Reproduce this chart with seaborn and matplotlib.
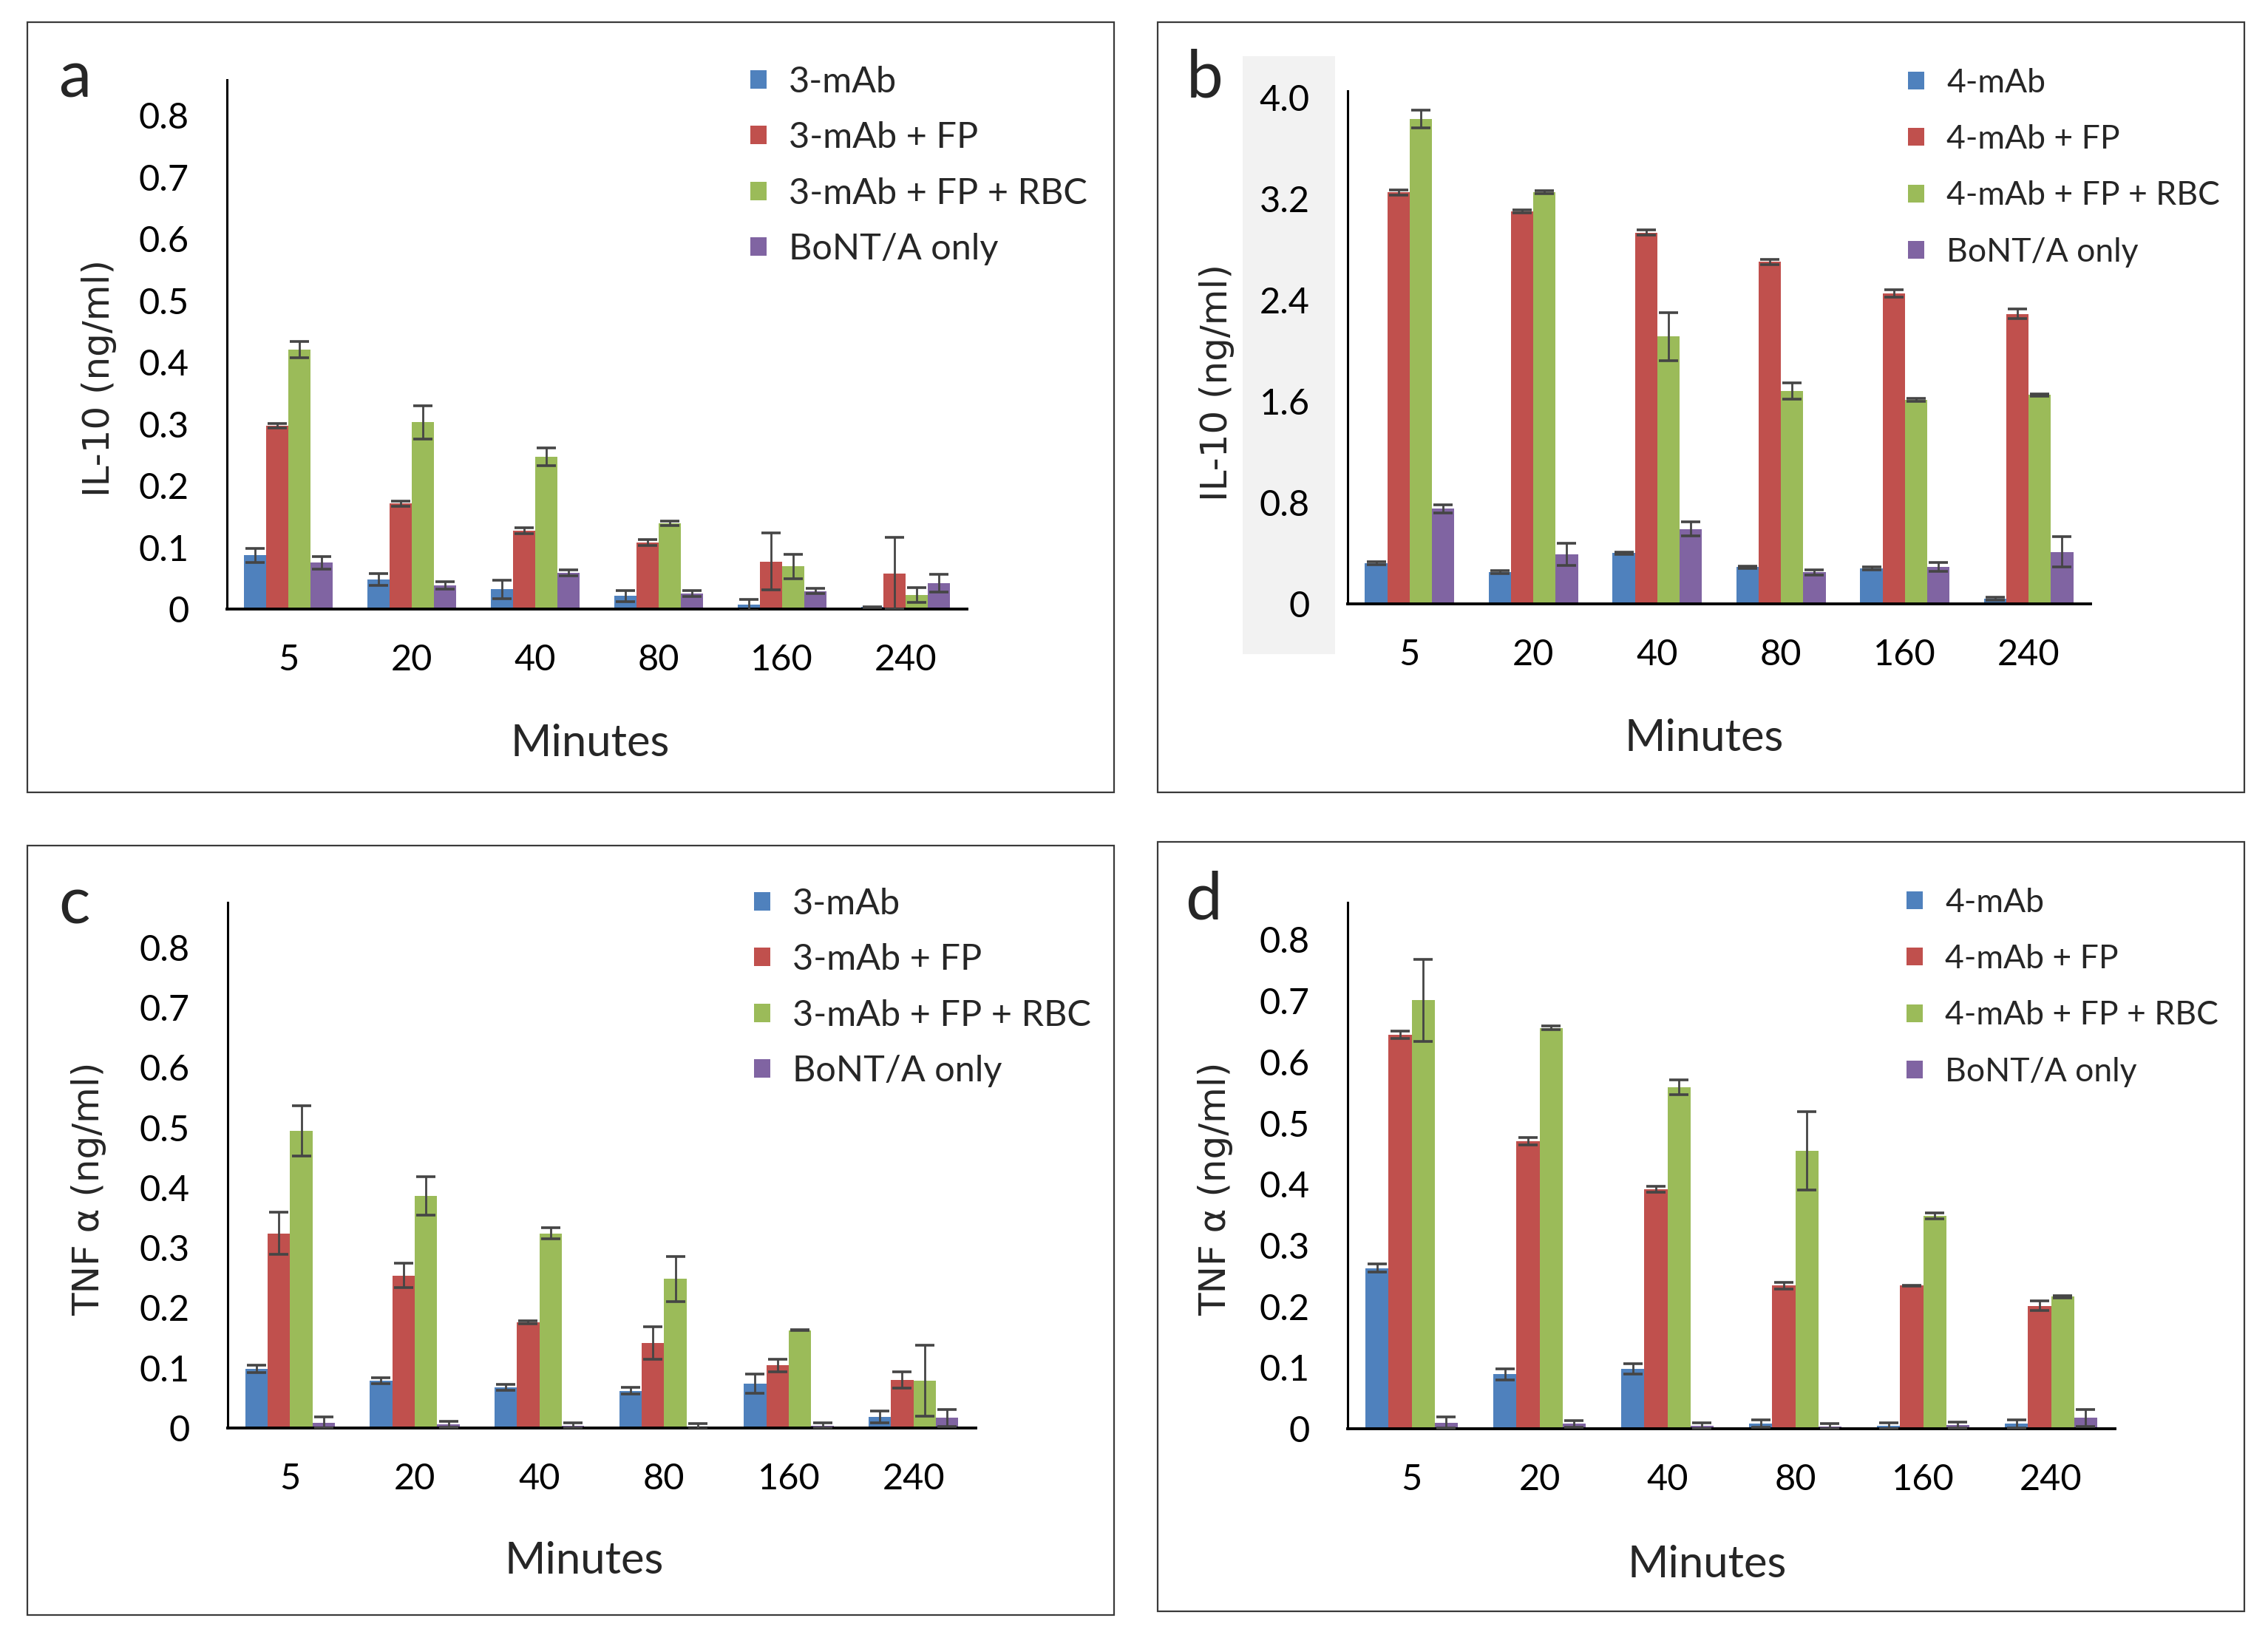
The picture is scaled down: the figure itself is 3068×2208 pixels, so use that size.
import numpy as np
import pandas as pd
import matplotlib
matplotlib.use("Agg")
import matplotlib.pyplot as plt
from matplotlib.patches import Rectangle
import seaborn as sns

# ---------------- data ----------------
minutes = ["5", "20", "40", "80", "160", "240"]

series_3 = ["3-mAb", "3-mAb + FP", "3-mAb + FP + RBC", "BoNT/A only"]
series_4 = ["4-mAb", "4-mAb + FP", "4-mAb + FP + RBC", "BoNT/A only"]

# panel a : IL-10, 3-mAb
a_mab = [0.087, 0.048, 0.032, 0.021, 0.007, 0.003]
a_fp = [0.297, 0.171, 0.127, 0.108, 0.077, 0.058]
a_rbc = [0.421, 0.303, 0.247, 0.139, 0.069, 0.023]
a_bont = [0.075, 0.038, 0.059, 0.025, 0.029, 0.042]
a_mab_err = [0.011, 0.010, 0.015, 0.009, 0.009, 0.001]
a_fp_err = [0.004, 0.004, 0.005, 0.005, 0.046, 0.058]
a_rbc_err = [0.013, 0.027, 0.014, 0.004, 0.020, 0.012]
a_bont_err = [0.010, 0.006, 0.005, 0.005, 0.004, 0.014]

# panel b : IL-10, 4-mAb
b_mab = [0.32, 0.25, 0.40, 0.29, 0.28, 0.04]
b_fp = [3.25, 3.10, 2.93, 2.70, 2.45, 2.29]
b_rbc = [3.83, 3.25, 2.11, 1.68, 1.61, 1.65]
b_bont = [0.75, 0.39, 0.59, 0.25, 0.29, 0.41]
b_mab_err = [0.01, 0.01, 0.01, 0.01, 0.01, 0.01]
b_fp_err = [0.02, 0.01, 0.02, 0.02, 0.03, 0.04]
b_rbc_err = [0.07, 0.01, 0.19, 0.066, 0.01, 0.01]
b_bont_err = [0.03, 0.086, 0.055, 0.02, 0.035, 0.12]

# panel c : TNF alpha, 3-mAb
c_mab = [0.098, 0.079, 0.068, 0.062, 0.074, 0.018]
c_fp = [0.324, 0.254, 0.176, 0.142, 0.104, 0.080]
c_rbc = [0.495, 0.386, 0.324, 0.248, 0.163, 0.079]
c_bont = [0.009, 0.006, 0.004, 0.003, 0.004, 0.017]
c_mab_err = [0.006, 0.005, 0.005, 0.006, 0.016, 0.010]
c_fp_err = [0.035, 0.020, 0.003, 0.027, 0.011, 0.014]
c_rbc_err = [0.042, 0.032, 0.009, 0.037, 0.001, 0.059]
c_bont_err = [0.009, 0.005, 0.004, 0.004, 0.004, 0.014]

# panel d : TNF alpha, 4-mAb
d_mab = [0.263, 0.089, 0.098, 0.008, 0.005, 0.008]
d_fp = [0.645, 0.470, 0.392, 0.234, 0.234, 0.201]
d_rbc = [0.701, 0.656, 0.559, 0.455, 0.348, 0.216]
d_bont = [0.010, 0.008, 0.005, 0.004, 0.006, 0.018]
d_mab_err = [0.007, 0.009, 0.008, 0.006, 0.005, 0.007]
d_fp_err = [0.006, 0.006, 0.005, 0.005, 0.001, 0.008]
d_rbc_err = [0.067, 0.003, 0.012, 0.064, 0.005, 0.002]
d_bont_err = [0.009, 0.005, 0.005, 0.004, 0.005, 0.014]

ticks_small = [0, 0.1, 0.2, 0.3, 0.4, 0.5, 0.6, 0.7, 0.8]
ticks_small_lbl = ["0", "0.1", "0.2", "0.3", "0.4", "0.5", "0.6", "0.7", "0.8"]
ticks_b = [0, 0.8, 1.6, 2.4, 3.2, 4.0]
ticks_b_lbl = ["0", "0.8", "1.6", "2.4", "3.2", "4.0"]

colors = ["#4F81BD", "#C0504D", "#9BBB59", "#8064A2"]

# ---------------- figure ----------------
sns.set_style("white")
plt.rcParams["font.family"] = ["Lato", "DejaVu Sans"]

W, H = 3068, 2208
DPI = 200
fig = plt.figure(figsize=(W / DPI, H / DPI), dpi=DPI)
fig.patch.set_facecolor("white")


def fx(x):
    return x / W


def fy(y):
    return 1 - y / H


panels = [
    dict(letter="a", names=series_3,
         vals=[a_mab, a_fp, a_rbc, a_bont],
         errs=[a_mab_err, a_fp_err, a_rbc_err, a_bont_err],
         ylabel="IL-10 (ng/ml)", ylim=0.858, ticks=ticks_small, tlbl=ticks_small_lbl,
         box=(37, 30, 1507, 1072), ax=(307, 108, 1308, 824),
         letter_pos=(79, 131), leg=(1015, 89), legfs=17.5, ylab=(134, 512), xlab=(798, 1023)),
    dict(letter="b", names=series_4,
         vals=[b_mab, b_fp, b_rbc, b_bont],
         errs=[b_mab_err, b_fp_err, b_rbc_err, b_bont_err],
         ylabel="IL-10 (ng/ml)", ylim=4.05, ticks=ticks_b, tlbl=ticks_b_lbl,
         box=(1566, 30, 3036, 1072), ax=(1823, 123, 2828, 817),
         letter_pos=(1605, 131), leg=(2581, 92), legfs=16, ylab=(1646, 517), xlab=(2305, 1016)),
    dict(letter="c", names=series_3,
         vals=[c_mab, c_fp, c_rbc, c_bont],
         errs=[c_mab_err, c_fp_err, c_rbc_err, c_bont_err],
         ylabel="TNF α (ng/ml)", ylim=0.875, ticks=ticks_small, tlbl=ticks_small_lbl,
         box=(37, 1144, 1507, 2185), ax=(308, 1221, 1320, 1932),
         letter_pos=(79, 1249), leg=(1020, 1201), legfs=17.5, ylab=(120, 1608), xlab=(790, 2129)),
    dict(letter="d", names=series_4,
         vals=[d_mab, d_fp, d_rbc, d_bont],
         errs=[d_mab_err, d_fp_err, d_rbc_err, d_bont_err],
         ylabel="TNF α (ng/ml)", ylim=0.861, ticks=ticks_small, tlbl=ticks_small_lbl,
         box=(1566, 1139, 3036, 2180), ax=(1823, 1221, 2861, 1933),
         letter_pos=(1603, 1244), leg=(2579, 1201), legfs=16, ylab=(1644, 1608), xlab=(2309, 2134)),
]

# grey band behind the y tick labels of panel b
fig.add_artist(Rectangle((fx(1681), fy(885)), fx(1806) - fx(1681), fy(76) - fy(885),
                         transform=fig.transFigure, facecolor="#F2F2F2",
                         edgecolor="none", zorder=-1))

for p in panels:
    l, t, r, b = p["box"]
    fig.add_artist(Rectangle((fx(l), fy(b)), fx(r) - fx(l), fy(t) - fy(b),
                             transform=fig.transFigure, fill=False,
                             edgecolor="#3A3A3A", linewidth=0.8, zorder=-2))

    l, t, r, b = p["ax"]
    ax = fig.add_axes([fx(l), fy(b), fx(r) - fx(l), fy(t) - fy(b)])
    ax.set_facecolor("none")

    rows = []
    for name, vals in zip(p["names"], p["vals"]):
        for m, v in zip(minutes, vals):
            rows.append({"Minutes": m, "value": v, "series": name})
    df = pd.DataFrame(rows)

    sns.barplot(data=df, x="Minutes", y="value", hue="series",
                order=minutes, hue_order=p["names"], palette=colors,
                width=0.72, saturation=1, linewidth=0, errorbar=None,
                legend=False, ax=ax)

    for cont, errs in zip(ax.containers, p["errs"]):
        xs = [bar.get_x() + bar.get_width() / 2 for bar in cont]
        ys = [bar.get_height() for bar in cont]
        ax.errorbar(xs, ys, yerr=errs, fmt="none", ecolor="#454545",
                    elinewidth=1.0, capsize=4.6, capthick=1.3, zorder=5)

    ax.set_ylim(0, p["ylim"])
    ax.set_xlim(-0.5, 5.5)
    ax.set_yticks(p["ticks"])
    ax.set_yticklabels(p["tlbl"])
    ax.tick_params(axis="both", length=0, labelsize=17.5, colors="black")
    ax.tick_params(axis="y", pad=18.5)
    ax.tick_params(axis="x", pad=17)
    for s in ["top", "right"]:
        ax.spines[s].set_visible(False)
    ax.spines["left"].set_color("black")
    ax.spines["left"].set_linewidth(1.1)
    ax.spines["bottom"].set_color("black")
    ax.spines["bottom"].set_linewidth(1.4)

    ax.set_ylabel(p["ylabel"], fontsize=18, family=["DejaVu Sans"])
    ax.yaxis.set_label_coords(fx(p["ylab"][0]), fy(p["ylab"][1]), transform=fig.transFigure)
    ax.yaxis.label.set_va("center")
    ax.yaxis.label.set_ha("center")

    ax.set_xlabel("Minutes", fontsize=21.5)
    ax.xaxis.set_label_coords(fx(p["xlab"][0]), fy(p["xlab"][1]), transform=fig.transFigure)
    ax.xaxis.label.set_va("baseline")

    fs = p["legfs"]
    fpx = fs * DPI / 72.0
    text_h = 0.94 * fpx
    ax.legend(ax.containers, p["names"], loc="upper left",
              bbox_to_anchor=(fx(p["leg"][0]), fy(p["leg"][1])),
              bbox_transform=fig.transFigure, frameon=False,
              borderpad=0, borderaxespad=0,
              handlelength=22 / fpx, handleheight=20 / fpx,
              handletextpad=30 / fpx, labelspacing=(77 - text_h) / fpx,
              fontsize=fs)

    fig.text(fx(p["letter_pos"][0]), fy(p["letter_pos"][1]), p["letter"],
             fontsize=32, ha="left", va="baseline")

fig.savefig("out.png", dpi=DPI, facecolor="white")
